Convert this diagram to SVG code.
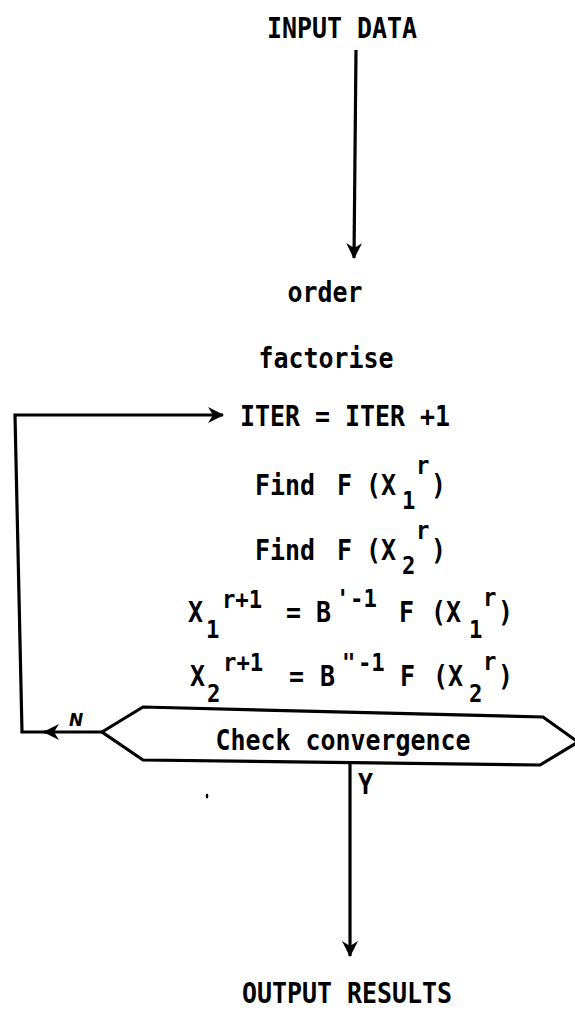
<svg xmlns="http://www.w3.org/2000/svg" width="575" height="1014" viewBox="0 0 575 1014">
<defs>
<style>
.t{font-family:"DejaVu Sans Mono","Liberation Mono",monospace;font-size:28px;font-weight:bold;fill:#000}
.s{font-size:25px}
.n{font-family:"DejaVu Sans","Liberation Sans",sans-serif;font-size:17px;font-style:italic;font-weight:bold;fill:#000}
.c{fill:none;stroke:#000;stroke-width:3.2;stroke-linejoin:miter;stroke-linecap:butt}
.h{fill:#fff;stroke:#000;stroke-width:3.2;stroke-linejoin:miter}
</style>
<marker id="ah" markerUnits="userSpaceOnUse" markerWidth="18" markerHeight="16" refX="15" refY="8" orient="auto">
<path d="M0,0 L16,8 L0,16 L5,8 z" fill="#000"/>
</marker>
</defs>
<rect width="575" height="1014" fill="#fff"/>
<g id="connectors">
<path class="c" d="M356,50 L354,258" marker-end="url(#ah)"/>
<path class="c" d="M102,732 L44,732" marker-end="url(#ah)"/>
<path class="c" d="M50,732 L22,732 L15,415 L223,415" marker-end="url(#ah)"/>
<path class="c" d="M350,763 L350,956" marker-end="url(#ah)"/>
</g>
<g transform="scale(0.89,1)">
<g id="input"><text class="t" x="300" y="38">INPUT DATA</text></g>
<g id="order"><text class="t" x="365.2" y="302" text-anchor="middle">order</text></g>
<g id="factorise"><text class="t" x="366.3" y="368" text-anchor="middle">factorise</text></g>
<g id="iter"><text class="t" x="269.7" y="426">ITER = ITER +1</text></g>
<g id="find1"><text class="t"><tspan x="286.5" y="495">Find</tspan><tspan x="378.7" y="495">F</tspan><tspan x="411.2" y="495">(X</tspan><tspan class="s" x="451.7" y="509">1</tspan><tspan class="s" x="467.4" y="474">r</tspan><tspan x="484.3" y="495">)</tspan></text></g>
<g id="find2"><text class="t"><tspan x="286.5" y="560">Find</tspan><tspan x="378.7" y="560">F</tspan><tspan x="411.2" y="560">(X</tspan><tspan class="s" x="451.7" y="574">2</tspan><tspan class="s" x="467.4" y="539">r</tspan><tspan x="484.3" y="560">)</tspan></text></g>
<g id="update1"><text class="t"><tspan x="211.2" y="622">X</tspan><tspan class="s" x="231.5" y="638">1</tspan><tspan class="s" x="249.4" y="608">r+1</tspan><tspan x="321.3" y="622">=</tspan><tspan x="355.1" y="622">B</tspan><tspan class="s" x="377.5" y="607">'</tspan><tspan class="s" x="393.3" y="607">-1</tspan><tspan x="448.3" y="622">F</tspan><tspan x="484.3" y="622">(X</tspan><tspan class="s" x="527" y="638">1</tspan><tspan class="s" x="542.7" y="606">r</tspan><tspan x="559.6" y="622">)</tspan></text></g>
<g id="update2"><text class="t"><tspan x="213.5" y="686">X</tspan><tspan class="s" x="232.6" y="702">2</tspan><tspan class="s" x="250.6" y="671">r+1</tspan><tspan x="324.7" y="686">=</tspan><tspan x="359.6" y="686">B</tspan><tspan class="s" x="384.3" y="671">"</tspan><tspan class="s" x="402.2" y="671">-1</tspan><tspan x="449.4" y="686">F</tspan><tspan x="486.5" y="686">(X</tspan><tspan class="s" x="527" y="702">2</tspan><tspan class="s" x="542.7" y="670">r</tspan><tspan x="559.6" y="686">)</tspan></text></g>
</g>
<g id="check">
<polygon class="h" points="102,732 143,707 543,717 578,742 540,765 143,760"/>
<text class="t" x="385.4" y="750" text-anchor="middle" transform="scale(0.89,1)">Check convergence</text>
</g>
<g id="labels">
<text class="n" x="69" y="726">N</text>
<text class="t" x="402.2" y="794" transform="scale(0.89,1)">Y</text>
</g>
<ellipse cx="207" cy="796" rx="1.3" ry="2.5" fill="#000"/>
<g id="output"><text class="t" x="271.9" y="1003" transform="scale(0.89,1)">OUTPUT RESULTS</text></g>
</svg>
